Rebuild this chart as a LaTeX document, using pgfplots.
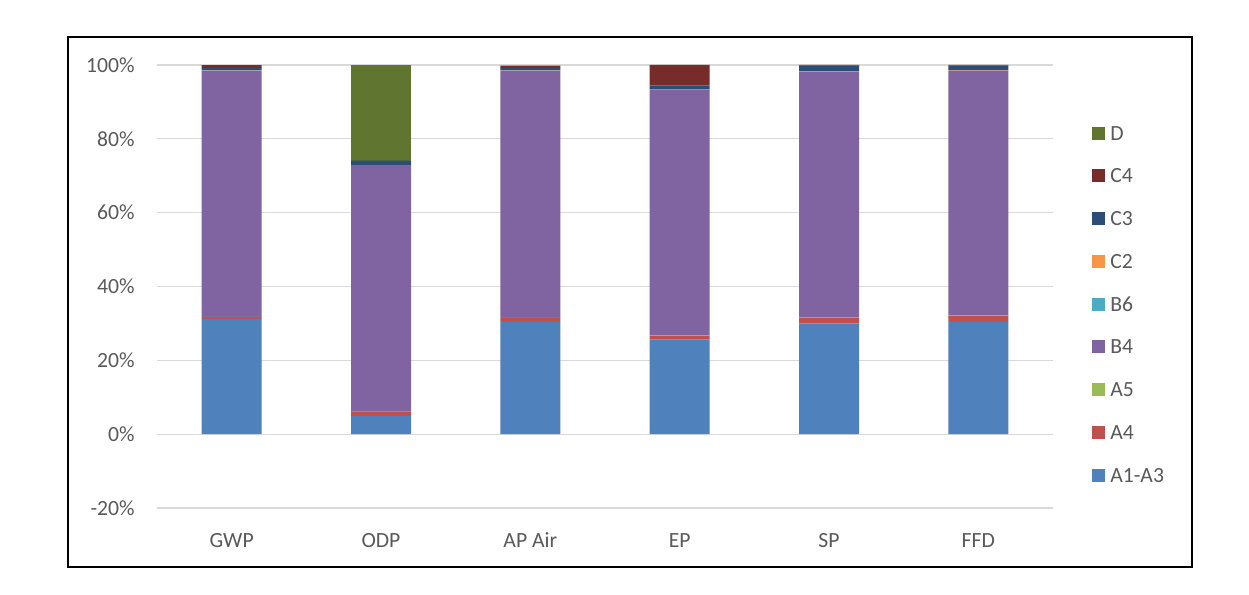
\documentclass[border=0pt]{standalone}
\usepackage{pgfplots}
\pgfplotsset{compat=1.18}
\usepackage{pgfplotstable}
\usepackage{fontspec}
\setmainfont{Carlito}
\definecolor{cA}{HTML}{4F81BD}
\definecolor{cB}{HTML}{C0504D}
\definecolor{cC}{HTML}{9BBB59}
\definecolor{cD}{HTML}{8064A2}
\definecolor{cE}{HTML}{4BACC6}
\definecolor{cF}{HTML}{F79646}
\definecolor{cG}{HTML}{2C4D75}
\definecolor{cH}{HTML}{772C2A}
\definecolor{cI}{HTML}{5F7530}
\definecolor{txt}{HTML}{595959}
\definecolor{grd}{HTML}{D9D9D9}
\pgfplotstableread{
x  A   Af   Av   B    Bs   Ct   Cth  Cf   D
0  31.2 0.5 0.1 66.6 0.05 0.1 0.6 0.8 0
1  4.9  1.3 0.0 66.7 0.0  0.0 1.2 0.0 25.9
2  30.4 1.0 0.1 66.9 0.05 0.1 0.6 0.7 0
3  25.6 1.1 0.1 66.4 0.0  0.1 1.2 5.5 0
4  30.0 1.5 0.1 66.6 0.0  0.1 1.5 0.2 0
5  30.4 1.6 0.1 66.4 0.0  0.1 1.3 0.1 0
}\data
\begin{document}
\begin{tikzpicture}
\path (0pt,0pt) rectangle (749.4pt,356.4pt);
\draw[line width=0.9pt] (40.8pt,16.2pt) rectangle (715.2pt,334.2pt);
\begin{axis}[
  at={(94.2pt,51.6pt)}, anchor=south west,
  scale only axis, width=537.6pt, height=265.8pt,
  ybar stacked, bar width=36pt,
  xmin=-0.5, xmax=5.5, ymin=-20, ymax=100,
  axis line style={draw=none},
  ymajorgrids, grid style={grd, line width=0.7pt},
  ytick={-20,0,20,40,60,80,100},
  yticklabel={\pgfmathprintnumber{\tick}\%},
  xtick={0,1,2,3,4,5},
  xticklabels={GWP,ODP,AP Air,EP,SP,FFD},
  major tick length=0pt,
  tick style={draw=none},
  tick label style={font=\fontsize{13}{15}\selectfont, text=txt},
  /pgf/number format/assume math mode=true,
  yticklabel style={anchor=east, inner sep=0pt, xshift=-13.2pt},
  xticklabel style={anchor=north, inner sep=0pt, yshift=-15.0pt, text height=8.4pt, text depth=0pt},
  xtick pos=bottom, ytick pos=left,
  reverse legend,
  legend cell align=left,
  legend style={at={(1.0435,0.8630)}, anchor=north west, draw=none, fill=none, inner sep=0pt,
    row sep=17.25pt, column sep=3pt,
    font=\fontsize{13}{15}\selectfont, text=txt,
    nodes={inner sep=0pt, text height=8.4pt, text depth=0pt}},
  legend image code/.code={\fill[#1] (0pt,-3.9pt) rectangle (7.8pt,3.9pt);},
  every axis plot/.append style={draw=none},
]
\addplot[fill=cA] table[x=x,y=A] {\data};
\addplot[fill=cB] table[x=x,y=Af] {\data};
\addplot[fill=cC] table[x=x,y=Av] {\data};
\addplot[fill=cD] table[x=x,y=B] {\data};
\addplot[fill=cE] table[x=x,y=Bs] {\data};
\addplot[fill=cF] table[x=x,y=Ct] {\data};
\addplot[fill=cG] table[x=x,y=Cth] {\data};
\addplot[fill=cH] table[x=x,y=Cf] {\data};
\addplot[fill=cI] table[x=x,y=D] {\data};
\legend{A1-A3,A4,A5,B4,B6,C2,C3,C4,D}
\end{axis}
\end{tikzpicture}
\end{document}
